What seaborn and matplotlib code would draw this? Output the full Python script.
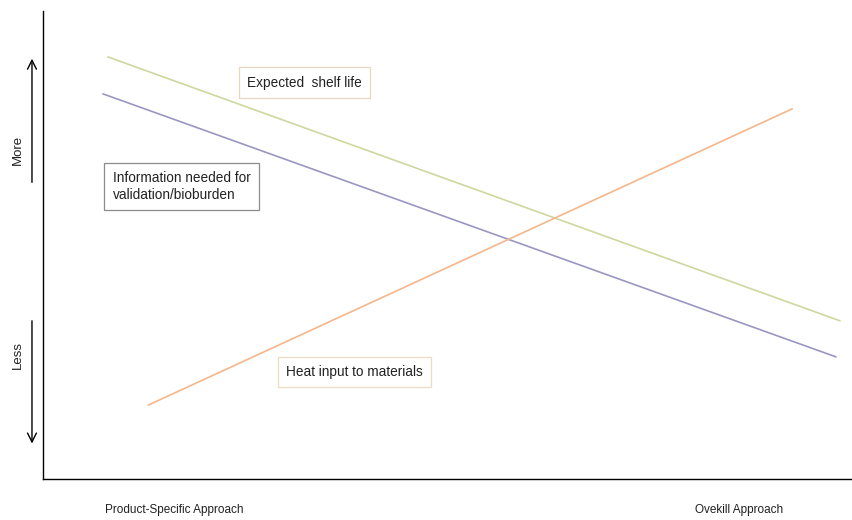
import numpy as np
import pandas as pd
import matplotlib
matplotlib.use("Agg")
import matplotlib.pyplot as plt
import seaborn as sns

# end points of the three trend lines (x: approach scale 0-10, y: level 0-10)
series = ["Expected shelf life", "Information needed", "Heat input"]
x_start = [0.80, 0.74, 1.30]
x_end = [9.84, 9.79, 9.25]
y_start = [9.02, 8.23, 1.58]
y_end = [3.38, 2.61, 7.91]
colors = ["#ccd89e", "#9a96c2", "#f4b68a"]

approaches = ["Product-Specific Approach", "Ovekill Approach"]
approach_pos = [1.62, 8.59]

rows = []
for i, s in enumerate(series):
    rows.append({"series": s, "x": x_start[i], "y": y_start[i]})
    rows.append({"series": s, "x": x_end[i], "y": y_end[i]})
df = pd.DataFrame(rows)

sns.set_style("white")
plt.rcParams['font.family'] = ['Liberation Sans', 'DejaVu Sans']

fig = plt.figure(figsize=(8.53, 5.2), dpi=100)
ax = fig.add_axes([0.0504, 0.0788, 0.9496, 0.900])

sns.lineplot(data=df, x="x", y="y", hue="series", palette=colors,
             linewidth=1.2, legend=False, ax=ax)

ax.set_xlim(0, 10)
ax.set_ylim(0, 10)
ax.set_xlabel("")
ax.set_ylabel("")
ax.set_yticks([])
ax.set_xticks(approach_pos)
ax.set_xticklabels(approaches, fontsize=8.5, color="#222222")
ax.tick_params(axis="x", length=0, pad=18)

for side in ["top", "right"]:
    ax.spines[side].set_visible(False)
for side in ["left", "bottom"]:
    ax.spines[side].set_color("black")
    ax.spines[side].set_linewidth(1.0)

# labelled boxes
ax.text(2.52, 8.47, "Expected  shelf life", fontsize=9.8, va="center", ha="left",
        color="#222222",
        bbox=dict(boxstyle="square,pad=0.6", fc="white", ec="#e6d8c0", lw=0.9))
ax.text(0.86, 6.25, "Information needed for\nvalidation/bioburden", fontsize=9.8,
        va="center", ha="left", color="#222222", linespacing=1.3,
        bbox=dict(boxstyle="square,pad=0.6", fc="white", ec="#8c8c8c", lw=0.9))
ax.text(3.00, 2.28, "Heat input to materials", fontsize=9.8, va="center",
        ha="left", color="#222222",
        bbox=dict(boxstyle="square,pad=0.6", fc="white", ec="#ecdcc4", lw=0.9))

# More / Less arrows on the left
ax.annotate("", xy=(-0.0136, 0.904), xytext=(-0.0136, 0.628),
            xycoords="axes fraction", textcoords="axes fraction",
            arrowprops=dict(arrowstyle="->", color="black", lw=1.0,
                            mutation_scale=16), annotation_clip=False)
ax.annotate("", xy=(-0.0136, 0.070), xytext=(-0.0136, 0.344),
            xycoords="axes fraction", textcoords="axes fraction",
            arrowprops=dict(arrowstyle="->", color="black", lw=1.0,
                            mutation_scale=16), annotation_clip=False)
ax.text(-0.031, 0.704, "More", transform=ax.transAxes, rotation=90,
        fontsize=9.5, ha="center", va="center", color="#222222")
ax.text(-0.031, 0.265, "Less", transform=ax.transAxes, rotation=90,
        fontsize=9.5, ha="center", va="center", color="#222222")

fig.savefig("out.png", dpi=100, facecolor="white")
